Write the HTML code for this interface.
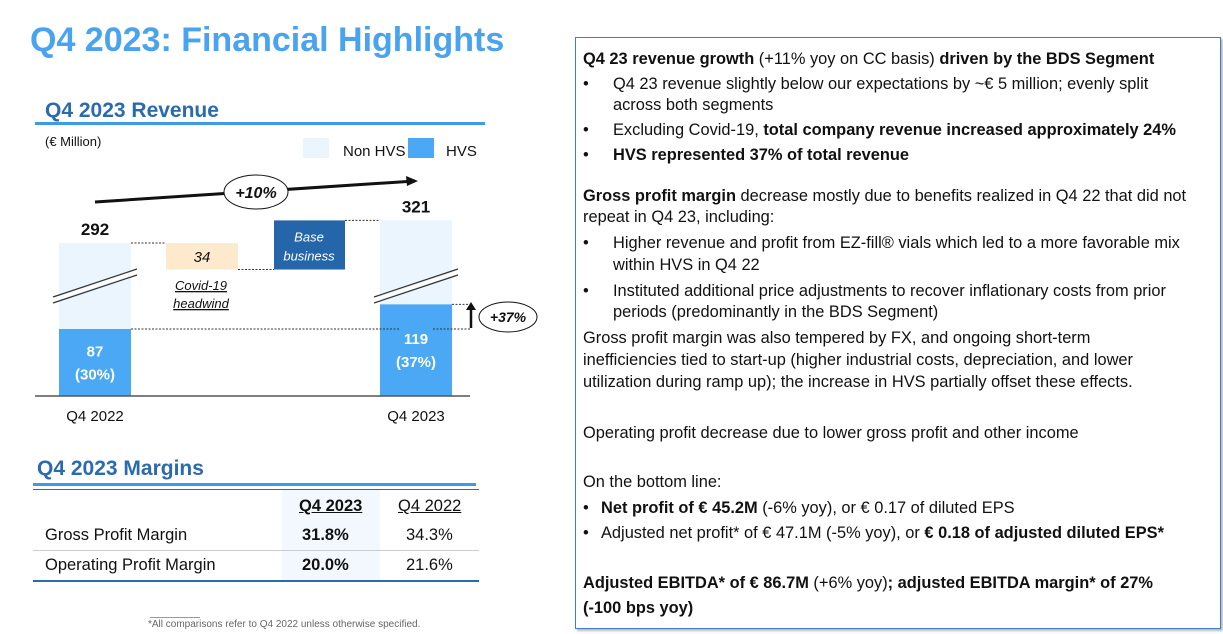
<!DOCTYPE html>
<html><head><meta charset="utf-8"><style>
body{margin:0;width:1223px;height:634px;background:#fff;font-family:"Liberation Sans",sans-serif;position:relative;overflow:hidden}
.t{position:absolute;white-space:nowrap;font-size:16.4px;color:#111;line-height:19px}
.m{font-size:16.5px}
b{font-weight:bold}
</style></head><body>
<div class="t" style="left:30px;top:19px;font-size:34px;line-height:42px;font-weight:bold;color:#4aa3ee">Q4 2023: Financial Highlights</div>

<svg width="570" height="634" style="position:absolute;left:0;top:0" font-family="Liberation Sans, sans-serif">
<text x="45" y="117" font-size="21" font-weight="bold" fill="#2a6bb0">Q4 2023 Revenue</text>
<rect x="35" y="122" width="450" height="3" fill="#3d9be9"/>
<text x="45" y="146" font-size="13" fill="#111">(€ Million)</text>
<rect x="303" y="138" width="26" height="20" fill="#eaf5fd"/>
<text x="343" y="156" font-size="15" fill="#111">Non HVS</text>
<rect x="408" y="138" width="26" height="20" fill="#4aa8f5"/>
<text x="446" y="156" font-size="15" fill="#111">HVS</text>
<g id="bars"></g>
<line x1="35" y1="396" x2="470" y2="396" stroke="#555" stroke-width="1.5"/>
<path d="M95 202 L415 181" stroke="#111" stroke-width="3"/>
<path d="M418 181 L406 176 L407 186 Z" fill="#111"/>
<ellipse cx="256" cy="192" rx="32" ry="17" fill="#fff" stroke="#111"/>
<text x="256" y="198" text-anchor="middle" font-size="16" font-weight="bold" font-style="italic" fill="#111">+10%</text>
<path d="M471 328 L471 307" stroke="#111" stroke-width="2.5"/>
<path d="M471 302 L466 310 L476 310 Z" fill="#111"/>
<ellipse cx="508" cy="317" rx="29" ry="15" fill="#fff" stroke="#111"/>
<text x="508" y="322" text-anchor="middle" font-size="14" font-weight="bold" font-style="italic" fill="#111">+37%</text>
<text x="201" y="290" text-anchor="middle" font-size="13" font-style="italic" fill="#111" text-decoration="underline">Covid-19</text>
<text x="201" y="308" text-anchor="middle" font-size="13" font-style="italic" fill="#111" text-decoration="underline">headwind</text>
</svg>
<script>
const categories=["Q4 2022","Q4 2023"];
const totals=[292,321];
const hvs=[87,119];
const hvsPct=["(30%)","(37%)"];
const covidDrop=34;
const NS="http://www.w3.org/2000/svg";
const g=document.getElementById('bars');
const base=396;
function yH(v){return base-v*0.77;}
function yT(v){return 243-(v-totals[0])*0.78;}
const bx=[59,380],bw=72;
function mk(tag,attrs,txt){const e=document.createElementNS(NS,tag);for(const k in attrs)e.setAttribute(k,attrs[k]);if(txt!==undefined)e.textContent=txt;g.appendChild(e);return e;}
for(let i=0;i<2;i++){
 const x=bx[i];
 const t=mk('rect',{x:x,y:yT(totals[i]),width:bw,height:base-yT(totals[i]),fill:'#eaf5fd'});
 
 
 const h=mk('rect',{x:x,y:yH(hvs[i]),width:bw,height:base-yH(hvs[i]),fill:'#4aa8f5'});
 
 
 const by=286;
 mk('path',{d:`M${x-6} ${by+11} L${x+78} ${by-17}`,stroke:'#333','stroke-width':1.2});
 mk('path',{d:`M${x-6} ${by+17} L${x+78} ${by-11}`,stroke:'#333','stroke-width':1.2});
 mk('path',{d:`M${x-6} ${by+14} L${x+78} ${by-14}`,stroke:'#fff','stroke-width':3});
 const tl=mk('text',{x:x+36,y:yT(totals[i])-8,'text-anchor':'middle','font-size':17,'font-weight':'bold',fill:'#111'},totals[i]);
 
 
 const mid=(yH(hvs[i])+base)/2;
 mk('text',{x:x+36,y:mid-6,'text-anchor':'middle','font-size':15,'font-weight':'bold',fill:'#fff'},hvs[i]);
 mk('text',{x:x+36,y:mid+17,'text-anchor':'middle','font-size':15,'font-weight':'bold',fill:'#fff'},hvsPct[i]);
 const cl=mk('text',{x:x+36,y:421,'text-anchor':'middle','font-size':15,fill:'#111'},categories[i]);
 
 
}
const cTop=yT(totals[0]),cBot=cTop+covidDrop*0.78;
const c=mk('rect',{x:166,y:cTop,width:72,height:cBot-cTop,fill:'#fde9cc'});


mk('text',{x:202,y:cTop+19,'text-anchor':'middle','font-size':15,'font-style':'italic',fill:'#111'},covidDrop);
const bTop=yT(totals[1]);
const b=mk('rect',{x:274,y:bTop,width:71,height:cBot-bTop,fill:'#2566aa'});


mk('text',{x:309,y:bTop+21,'text-anchor':'middle','font-size':13,'font-style':'italic',fill:'#fff'},'Base');
mk('text',{x:309,y:bTop+40,'text-anchor':'middle','font-size':13,'font-style':'italic',fill:'#fff'},'business');
const dash={stroke:'#333','stroke-width':1,'stroke-dasharray':'2,1.5'};
mk('line',Object.assign({x1:131,y1:cTop,x2:166,y2:cTop},dash));
mk('line',Object.assign({x1:238,y1:cBot,x2:274,y2:cBot},dash));
mk('line',Object.assign({x1:345,y1:bTop,x2:380,y2:bTop},dash));
mk('line',Object.assign({x1:131,y1:yH(hvs[0]),x2:400,y2:yH(hvs[0])},dash));
mk('line',Object.assign({x1:433,y1:yH(hvs[0]),x2:471,y2:yH(hvs[0])},dash));
mk('line',Object.assign({x1:452,y1:yH(hvs[1]),x2:471,y2:yH(hvs[1])},dash));
</script>

<div class="t" style="left:37px;top:456px;font-size:21px;line-height:25px;font-weight:bold;color:#2a6bb0">Q4 2023 Margins</div>
<div style="position:absolute;left:33px;top:483px;width:443px;height:3px;background:#3d9be9"></div>
<div style="position:absolute;left:33px;top:489px;width:446px;height:1px;background:#2a6bb0"></div>
<div style="position:absolute;left:33px;top:490px;width:446px;height:92px">
 <div style="position:absolute;left:249px;top:0;width:98px;height:92px;background:#f2f8fd"></div>
 <div class="t m" style="left:266px;top:7px;font-weight:bold;text-decoration:underline">Q4 2023</div>
 <div class="t m" style="left:365px;top:7px;text-decoration:underline">Q4 2022</div>
 <div class="t m" style="left:12px;top:36px">Gross Profit Margin</div>
 <div class="t m" style="left:269px;top:36px;font-weight:bold">31.8%</div>
 <div class="t m" style="left:373px;top:36px">34.3%</div>
 <div style="position:absolute;left:0;top:60px;width:446px;height:1px;background:#ccc"></div>
 <div class="t m" style="left:12px;top:66px">Operating Profit Margin</div>
 <div class="t m" style="left:269px;top:66px;font-weight:bold">20.0%</div>
 <div class="t m" style="left:373px;top:66px">21.6%</div>
 <div style="position:absolute;left:0;top:90px;width:446px;height:2px;background:#2a6bb0"></div>
</div>
<div style="position:absolute;left:150px;top:617px;width:50px;height:1px;background:#999"></div>
<div class="t" style="left:148px;top:619px;font-size:10px;line-height:12px;color:#666">*All comparisons refer to Q4 2022 unless otherwise specified.</div>

<div style="position:absolute;left:575px;top:37px;width:644px;height:590px;border:1px solid #3d7fc0;box-shadow:2px 2px 2px #bbb"></div>
<div class="t" style="left:583px;top:50px"><b>Q4 23 revenue growth</b> (+11% yoy on CC basis) <b>driven by the BDS Segment</b></div>
<div class="t" style="left:583px;top:75px">•</div><div class="t" style="left:613px;top:75px">Q4 23 revenue slightly below our expectations by ~€ 5 million; evenly split</div>
<div class="t" style="left:613px;top:96px">across both segments</div>
<div class="t" style="left:583px;top:121px">•</div><div class="t" style="left:613px;top:121px">Excluding Covid-19, <b>total company revenue increased approximately 24%</b></div>
<div class="t" style="left:583px;top:146px">•</div><div class="t" style="left:613px;top:146px"><b>HVS represented 37% of total revenue</b></div>
<div class="t" style="left:583px;top:187px"><b>Gross profit margin</b> decrease mostly due to benefits realized in Q4 22 that did not</div>
<div class="t" style="left:583px;top:208px">repeat in Q4 23, including:</div>
<div class="t" style="left:583px;top:234px">•</div><div class="t" style="left:613px;top:234px">Higher revenue and profit from EZ-fill® vials which led to a more favorable mix</div>
<div class="t" style="left:613px;top:256px">within HVS in Q4 22</div>
<div class="t" style="left:583px;top:282px">•</div><div class="t" style="left:613px;top:282px">Instituted additional price adjustments to recover inflationary costs from prior</div>
<div class="t" style="left:613px;top:303px">periods (predominantly in the BDS Segment)</div>
<div class="t" style="left:583px;top:329px">Gross profit margin was also tempered by FX, and ongoing short-term</div>
<div class="t" style="left:583px;top:351px">inefficiencies tied to start-up (higher industrial costs, depreciation, and lower</div>
<div class="t" style="left:583px;top:373px">utilization during ramp up); the increase in HVS partially offset these effects.</div>
<div class="t" style="left:583px;top:424px">Operating profit decrease due to lower gross profit and other income</div>
<div class="t" style="left:583px;top:473px">On the bottom line:</div>
<div class="t" style="left:583px;top:499px">•</div><div class="t" style="left:601px;top:499px"><b>Net profit of € 45.2M</b> (-6% yoy), or € 0.17 of diluted EPS</div>
<div class="t" style="left:583px;top:524px">•</div><div class="t" style="left:601px;top:524px">Adjusted net profit* of € 47.1M (-5% yoy), or <b>€ 0.18 of adjusted diluted EPS*</b></div>
<div class="t" style="left:583px;top:574px"><b>Adjusted EBITDA* of € 86.7M</b> (+6% yoy)<b>; adjusted EBITDA margin* of 27%</b></div>
<div class="t" style="left:583px;top:599px"><b>(-100 bps yoy)</b></div>
</body></html>
